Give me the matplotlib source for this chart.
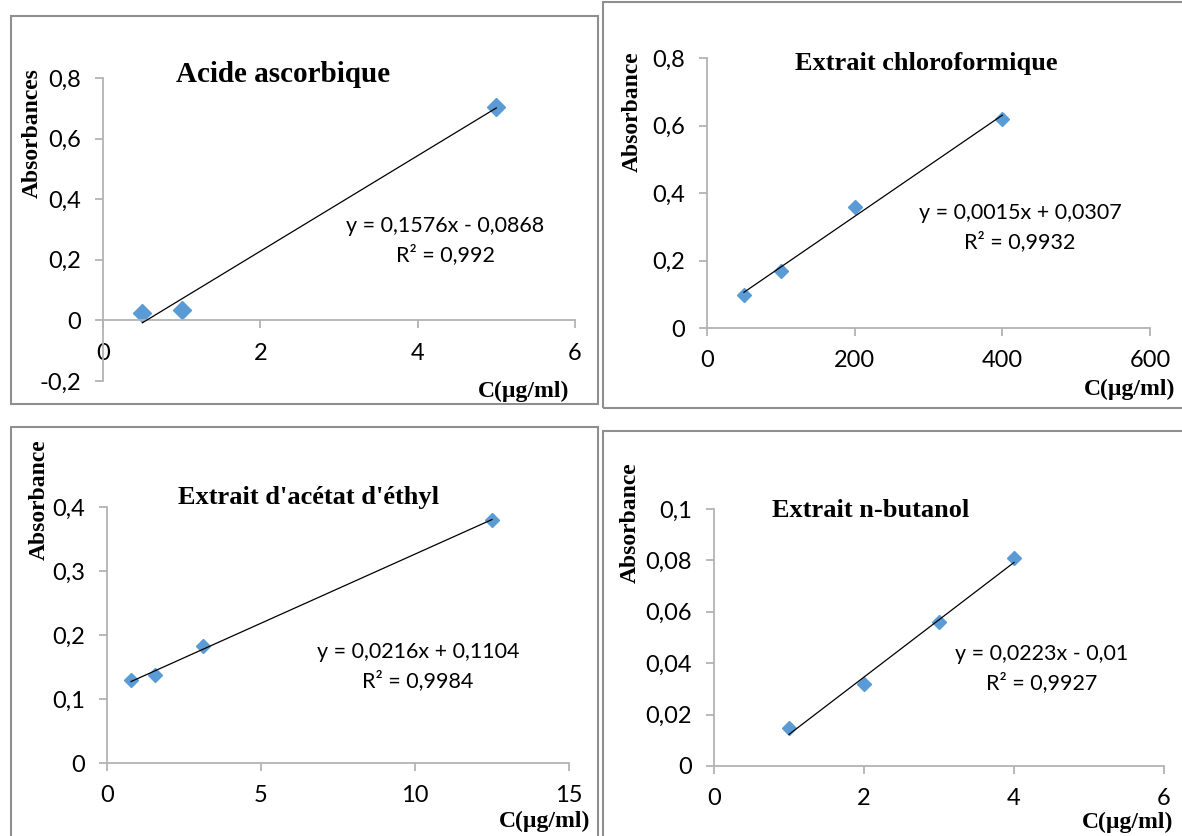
import matplotlib
matplotlib.use("agg")
import matplotlib.pyplot as plt
from matplotlib.patches import Rectangle
from matplotlib.ticker import FuncFormatter

W, H = 1182, 836

# ---- data ----
asc_x = [0.5, 1, 5]
asc_y = [0.025, 0.033, 0.705]
chl_x = [50, 100, 200, 400]
chl_y = [0.098, 0.17, 0.358, 0.62]
ace_x = [0.78, 1.56, 3.125, 12.5]
ace_y = [0.13, 0.138, 0.183, 0.38]
but_x = [1, 2, 3, 4]
but_y = [0.0148, 0.032, 0.056, 0.081]

# trendline coefficients (slope, intercept) as printed on the chart
asc_fit = (0.1576, -0.0868)
chl_fit = (0.0015, 0.0307)
ace_fit = (0.0216, 0.1104)
but_fit = (0.0223, -0.01)

titles = ["Acide ascorbique", "Extrait chloroformique",
          "Extrait d'acétat d'éthyl", "Extrait n-butanol"]
eq_texts = ["y = 0,1576x - 0,0868", "y = 0,0015x + 0,0307",
            "y = 0,0216x + 0,1104", "y = 0,0223x - 0,01"]
r2_texts = ["R² = 0,992", "R² = 0,9932", "R² = 0,9984", "R² = 0,9927"]
ylabels = ["Absorbances", "Absorbance", "Absorbance", "Absorbance"]
xlabel = "C(µg/ml)"

asc_xticks = [0, 2, 4, 6]
asc_yticks = [-0.2, 0, 0.2, 0.4, 0.6, 0.8]
chl_xticks = [0, 200, 400, 600]
chl_yticks = [0, 0.2, 0.4, 0.6, 0.8]
ace_xticks = [0, 5, 10, 15]
ace_yticks = [0, 0.1, 0.2, 0.3, 0.4]
but_xticks = [0, 2, 4, 6]
but_yticks = [0, 0.02, 0.04, 0.06, 0.08, 0.1]

# ---- layout (pixels, y from top) ----
panels = [
    dict(x=asc_x, y=asc_y, fit=asc_fit, xt=asc_xticks, yt=asc_yticks,
         ax=(103, 78, 575, 381), box=(11, 16, 598, 404), ms=9.5, ts=21,
         title=(283, 82), eq=(445, 232), xl=(524, 391), yl=(32, 133)),
    dict(x=chl_x, y=chl_y, fit=chl_fit, xt=chl_xticks, yt=chl_yticks,
         ax=(707, 58, 1150, 328), box=(603, 2, 1190, 408), ms=7, ts=19,
         title=(926, 70), eq=(1020, 219), xl=(1130, 389), yl=(632, 112)),
    dict(x=ace_x, y=ace_y, fit=ace_fit, xt=ace_xticks, yt=ace_yticks,
         ax=(107, 507, 569, 763), box=(11, 427, 598, 845), ms=7, ts=19,
         title=(309, 504), eq=(418, 658), xl=(545, 821), yl=(39, 500)),
    dict(x=but_x, y=but_y, fit=but_fit, xt=but_xticks, yt=but_yticks,
         ax=(714, 509, 1164, 766), box=(603, 431, 1190, 845), ms=7, ts=19,
         title=(871, 517), eq=(1042, 660), xl=(1128, 822), yl=(630, 523)),
]

AXIS_C = "#B3B3B3"
BOX_C = "#8F8F8F"
MARK_C = "#5B9BD5"
TICK_FONT = ["Lato", "DejaVu Sans"]
SERIF = ["Liberation Serif", "DejaVu Serif"]


def fx(px):
    return px / W


def fy(py):
    return 1 - py / H


def comma(v, pos=None):
    return f"{v:g}".replace(".", ",")


fig = plt.figure(figsize=(W / 100, H / 100), dpi=100)
fig.patch.set_facecolor("white")

for i, p in enumerate(panels):
    bl, bt, br, bb = p["box"]
    fig.patches.append(Rectangle((fx(bl), fy(bb)), fx(br - bl), (bb - bt) / H,
                                 transform=fig.transFigure, fill=False,
                                 edgecolor=BOX_C, lw=1.5, clip_on=False))

    l, t, r, b = p["ax"]
    ax = fig.add_axes([fx(l), fy(b), fx(r - l), (b - t) / H])
    ax.set_xlim(p["xt"][0], p["xt"][-1])
    ax.set_ylim(p["yt"][0], p["yt"][-1])
    ax.set_xticks(p["xt"])
    ax.set_yticks(p["yt"])
    ax.xaxis.set_major_formatter(FuncFormatter(comma))
    ax.yaxis.set_major_formatter(FuncFormatter(comma))
    for s in ["top", "right"]:
        ax.spines[s].set_visible(False)
    for s in ["left", "bottom"]:
        ax.spines[s].set_color(AXIS_C)
        ax.spines[s].set_linewidth(1.3)
    if p["yt"][0] < 0:
        ax.spines["bottom"].set_position(("data", 0))
    ax.tick_params(axis="both", direction="out", length=6, width=1.3,
                   color=AXIS_C, labelsize=17)
    ax.tick_params(axis="x", pad=10)
    ax.tick_params(axis="y", pad=10)
    for lab in ax.get_xticklabels() + ax.get_yticklabels():
        lab.set_family(TICK_FONT)
    ax.patch.set_alpha(0)

    a, c = p["fit"]
    x0, x1 = min(p["x"]), max(p["x"])
    ax.plot([x0, x1], [a * x0 + c, a * x1 + c], color="black", lw=0.9,
            zorder=3, clip_on=False)
    ax.plot(p["x"], p["y"], ls="none", marker="D", ms=p["ms"],
            color=MARK_C, mec=MARK_C, zorder=2, clip_on=False)

    tx, ty = p["title"]
    fig.text(fx(tx), fy(ty), titles[i], ha="center", va="baseline",
             family=SERIF, fontweight="bold", fontsize=p["ts"])
    ex, ey = p["eq"]
    fig.text(fx(ex), fy(ey), eq_texts[i], ha="center", va="baseline",
             family=TICK_FONT, fontsize=15.5)
    fig.text(fx(ex), fy(ey + 29), r2_texts[i], ha="center", va="baseline",
             family=TICK_FONT, fontsize=15.5)
    xx, xy = p["xl"]
    fig.text(fx(xx), fy(xy), xlabel, ha="center", va="center",
             family=SERIF, fontweight="bold", fontsize=17)
    yx, yy = p["yl"]
    fig.text(fx(yx), fy(yy), ylabels[i], ha="center", va="center",
             rotation=90, family=SERIF, fontweight="bold", fontsize=17)

fig.savefig("out.png", dpi=100)
